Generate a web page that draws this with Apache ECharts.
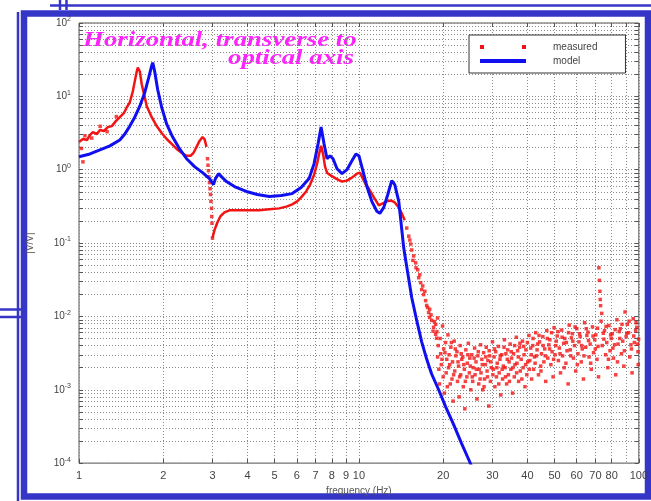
<!DOCTYPE html>
<html><head><meta charset="utf-8">
<script src="https://cdn.jsdelivr.net/npm/echarts@6/dist/echarts.min.js"></script>
<style>html,body{margin:0;padding:0;background:#fff}#c{width:651px;height:501px}</style>
</head><body><div id="c"></div>
<script>
// ---- axis ticks / labels ----
const xTickValues = [1,2,3,4,5,6,7,8,9,10,20,30,40,50,60,70,80,90,100];
const yTickValues = [
  1e-4,2e-4,3e-4,4e-4,5e-4,6e-4,7e-4,8e-4,9e-4,
  1e-3,2e-3,3e-3,4e-3,5e-3,6e-3,7e-3,8e-3,9e-3,
  1e-2,2e-2,3e-2,4e-2,5e-2,6e-2,7e-2,8e-2,9e-2,
  0.1,0.2,0.3,0.4,0.5,0.6,0.7,0.8,0.9,
  1,2,3,4,5,6,7,8,9,
  10,20,30,40,50,60,70,80,90,100];
const yLabelValues = [1e-4,1e-3,1e-2,1e-1,1,10,100];

// ---- measured (red) ----
const measuredLow = [
  [1.00,2.39],[1.033,2.62],[1.068,2.54],[1.094,2.97],[1.121,3.26],[1.159,3.06],[1.188,3.47],
  [1.227,3.37],[1.268,3.81],[1.310,3.93],[1.354,4.59],[1.399,5.20],[1.446,5.89],[1.482,7.10],
  [1.519,8.30],[1.557,11.7],[1.582,16.0],[1.608,21.8],[1.622,24.7],[1.649,21.8],[1.676,14.5],
  [1.718,9.69],[1.746,7.33],[1.819,5.20],[1.895,3.93],[1.974,3.16],[2.057,2.62],[2.143,2.25],
  [2.233,1.92],[2.325,1.70],[2.423,1.55],[2.504,1.55],[2.566,1.70],[2.630,2.05],[2.695,2.47],
  [2.763,2.79],[2.808,2.62],[2.854,2.05]];
const measuredDrop = [
  [1.02,1.95],[1.033,1.28],[1.05,2.9],[1.11,2.7],[1.19,3.9],[1.26,3.3],[1.36,5.3],
  [2.878,1.41],[2.89,1.15],[2.901,0.969],[2.91,0.80],[2.925,0.667],
  [2.94,0.55],[2.950,0.459],[2.96,0.37],[2.974,0.297],[2.98,0.23],[2.986,0.186],[2.998,0.117]];
const measuredMid = [
  [2.998,0.117],[3.048,0.150],[3.124,0.192],[3.201,0.232],[3.308,0.262],[3.446,0.279],[3.741,0.279],
  [4.060,0.279],[4.407,0.279],[4.783,0.288],[5.193,0.297],[5.543,0.316],[5.775,0.337],[6.017,0.370],
  [6.217,0.419],[6.477,0.505],[6.694,0.627],[6.917,0.855],[7.089,1.21],[7.207,1.64],[7.326,2.11],
  [7.447,1.64],[7.568,1.10],[7.693,0.911],[7.950,0.830],[8.283,0.756],[8.700,0.689],[9.064,0.71],
  [9.443,0.780],[9.838,0.883],[10.08,0.911],[10.33,0.756],[10.59,0.627],[10.85,0.553],[11.31,0.419],
  [11.78,0.326],[12.17,0.347],[12.58,0.370],[13.00,0.381],[13.43,0.358],[13.88,0.306],[14.22,0.254],
  [14.58,0.205]];
const measuredTail = [
  [14.82,0.160],[15.07,0.124],[15.31,0.0969],[15.44,0.0804],[15.69,0.0667],[15.95,0.0537],
  [16.22,0.0432],[16.35,0.0337],[16.62,0.0288],[16.76,0.0232],[17.03,0.0198],[17.31,0.0164],
  [17.46,0.0141],[17.75,0.0113],[17.89,0.00969],[18.19,0.00883],[18.49,0.0071],[18.79,0.00571],
  [18.95,0.00505],[17.2,0.022],[17.9,0.0125],[18.6,0.0085],
  [15.2,0.11],[15.6,0.058],[16.0,0.046],[16.5,0.037],[16.9,0.026],[17.6,0.0132],[18.1,0.0105],
  [18.4,0.0063],[18.8,0.0078],[19.1,0.0095]];
const measuredCloud = [
  [19.0,6.2e-3],[19.1,2.8e-3],[19.2,4.0e-3],[19.3,1.9e-3],[19.5,5.0e-3],[19.6,3.1e-3],[19.7,2.2e-3],
  [19.9,7.4e-3],[20.0,1.5e-3],[20.1,3.6e-3],[20.2,0.9e-3],[20.4,4.4e-3],[20.5,1.7e-3],[20.6,2.6e-3],
  [20.8,5.6e-3],[20.9,2.0e-3],[21.0,3.0e-3],[21.2,1.2e-3],[21.3,3.8e-3],[21.5,1.4e-3],[21.6,2.4e-3],
  [21.7,0.7e-3],[21.9,4.6e-3],[22.0,1.8e-3],[22.2,2.9e-3],[22.4,3.3e-3],[22.5,1.3e-3],[22.7,2.1e-3],
  [22.8,0.8e-3],[23.0,4.0e-3],[23.1,1.6e-3],[23.3,2.6e-3],[23.5,2.8e-3],[23.6,1.1e-3],[23.8,1.9e-3],
  [23.9,0.55e-3],[24.1,3.5e-3],[24.3,1.5e-3],[24.4,2.3e-3],[24.6,4.3e-3],[24.8,1.7e-3],[24.9,2.7e-3],
  [25.1,1.0e-3],[25.3,3.0e-3],[25.5,1.3e-3],[25.6,2.0e-3],[25.9,3.7e-3],[26.0,1.6e-3],[26.2,2.4e-3],
  [26.4,0.75e-3],[26.6,2.9e-3],[26.8,1.2e-3],[26.9,1.9e-3],[27.2,4.1e-3],[27.3,1.7e-3],[27.5,2.6e-3],
  [27.7,1.0e-3],[27.9,3.2e-3],[28.1,1.4e-3],[28.3,2.2e-3],[28.5,3.8e-3],[28.7,1.8e-3],[28.9,2.5e-3],
  [29.1,0.6e-3],[29.3,2.9e-3],[29.5,1.3e-3],[29.7,2.0e-3],[30.0,4.5e-3],[30.2,1.9e-3],[30.4,2.8e-3],
  [30.6,1.1e-3],[30.8,3.3e-3],[31.0,1.5e-3],[31.2,2.3e-3],[31.5,3.9e-3],[31.7,1.7e-3],[31.9,2.6e-3],
  [32.1,0.85e-3],[32.4,3.0e-3],[32.6,1.4e-3],[32.8,2.1e-3],[33.1,4.8e-3],[33.3,2.0e-3],[33.5,3.1e-3],
  [33.7,1.2e-3],[34.0,3.5e-3],[34.2,1.6e-3],[34.4,2.4e-3],[34.7,4.2e-3],[34.9,1.9e-3],[35.1,2.7e-3],
  [35.4,0.9e-3],[35.7,3.1e-3],[35.9,1.5e-3],[36.1,2.2e-3],[36.5,5.2e-3],[36.7,2.3e-3],[36.9,3.4e-3],
  [37.2,1.3e-3],[37.5,3.8e-3],[37.7,1.8e-3],[38.0,2.6e-3],[38.4,4.6e-3],[38.6,2.0e-3],[38.9,3.0e-3],
  [39.2,1.1e-3],[39.5,3.5e-3],[39.8,1.6e-3],[40.1,2.4e-3],[40.5,5.5e-3],[40.8,2.5e-3],[41.1,3.7e-3],
  [41.4,1.4e-3],[41.8,4.0e-3],[42.1,1.9e-3],[42.4,2.8e-3],[42.8,6.0e-3],[43.1,2.9e-3],[43.5,4.2e-3],
  [43.8,1.6e-3],[44.2,4.5e-3],[44.6,2.1e-3],[44.9,3.1e-3],[45.4,5.3e-3],[45.8,2.4e-3],[46.1,3.6e-3],
  [46.5,1.3e-3],[46.9,6.4e-3],[47.3,2.7e-3],[47.7,4.1e-3],[48.1,4.8e-3],[48.5,2.2e-3],[49.0,3.3e-3],
  [49.4,1.5e-3],[49.8,7.0e-3],[50.2,3.0e-3],[50.7,4.6e-3],[51.1,5.4e-3],[51.6,2.5e-3],[52.0,3.7e-3],
  [52.5,1.7e-3],[53.0,6.5e-3],[53.4,2.9e-3],[53.9,4.3e-3],[54.4,5.0e-3],[54.9,2.3e-3],[55.4,3.4e-3],
  [55.9,1.2e-3],[56.4,7.6e-3],[56.9,3.5e-3],[57.4,5.1e-3],[57.9,5.8e-3],[58.4,2.7e-3],[58.9,4.0e-3],
  [59.5,1.8e-3],[60.0,6.8e-3],[60.6,3.1e-3],[61.1,4.5e-3],[61.7,5.3e-3],[62.3,2.4e-3],[62.8,3.6e-3],
  [63.4,1.4e-3],[64.0,8.2e-3],[64.6,3.8e-3],[65.2,5.5e-3],[65.8,6.1e-3],[66.4,2.8e-3],[67.0,4.2e-3],
  [67.6,1.9e-3],[68.3,7.2e-3],[68.9,3.2e-3],[69.6,4.8e-3],[70.2,5.6e-3],[70.9,2.6e-3],[71.5,3.9e-3],
  [71.8,1.5e-3],[72.0,46e-3],[72.3,31e-3],[72.6,22e-3],[73.0,14e-3],[73.3,8.6e-3],[74.0,4.0e-3],
  [74.7,5.9e-3],[75.4,6.4e-3],[76.1,3.0e-3],[76.8,4.4e-3],[77.5,2.0e-3],[78.2,7.5e-3],[78.9,3.4e-3],
  [79.7,5.0e-3],[80.4,5.8e-3],[81.2,2.7e-3],[81.9,4.1e-3],[82.7,1.6e-3],[83.5,9.0e-3],[84.3,4.2e-3],
  [85.1,6.2e-3],[85.9,6.8e-3],[86.7,3.1e-3],[87.6,4.6e-3],[88.4,2.1e-3],[89.3,11.5e-3],[90.1,5.3e-3],
  [91.0,7.8e-3],[91.9,6.0e-3],[92.8,2.8e-3],[93.7,4.1e-3],[94.6,1.7e-3],[95.5,9.3e-3],[96.4,4.4e-3],
  [97.4,6.4e-3],[98.3,7.1e-3],[99.3,3.3e-3],[99.8,4.9e-3],[99.5,2.2e-3],
  [19.4,1.2e-3],[19.8,2.6e-3],[20.3,3.2e-3],[20.7,1.1e-3],[21.1,2.2e-3],[21.4,4.4e-3],[21.8,1.6e-3],
  [22.1,3.6e-3],[22.6,2.4e-3],[22.9,1.5e-3],[23.2,3.1e-3],[23.7,2.2e-3],[24.0,1.3e-3],[24.5,3.0e-3],
  [25.0,2.1e-3],[25.4,1.5e-3],[25.8,2.7e-3],[26.3,1.9e-3],[26.7,3.3e-3],[27.1,1.4e-3],[27.6,2.2e-3],
  [28.0,1.1e-3],[28.4,2.8e-3],[28.8,1.5e-3],[29.2,3.4e-3],[29.6,2.4e-3],[30.1,1.6e-3],[30.5,3.6e-3],
  [31.1,2.0e-3],[31.6,1.2e-3],[32.0,2.9e-3],[32.5,1.9e-3],[33.0,3.8e-3],[33.4,1.5e-3],[33.9,2.6e-3],
  [34.5,1.3e-3],[35.0,3.3e-3],[35.5,2.0e-3],[36.0,4.0e-3],[36.6,1.7e-3],[37.1,2.8e-3],[37.6,4.3e-3],
  [38.2,1.4e-3],[38.8,3.9e-3],[39.4,2.2e-3],[40.0,4.4e-3],[40.6,1.9e-3],[41.3,3.0e-3],[41.9,5.0e-3],
  [42.6,2.3e-3],[43.3,3.5e-3],[44.0,5.5e-3],[44.7,1.8e-3],[45.5,4.0e-3],[46.3,2.9e-3],[47.1,5.0e-3],
  [48.0,3.6e-3],[48.8,6.0e-3],[49.6,2.6e-3],[50.5,4.0e-3],[51.4,6.2e-3],[52.3,3.1e-3],[53.2,5.2e-3],
  [54.1,2.0e-3],[55.1,4.4e-3],[56.1,6.0e-3],[57.1,2.9e-3],[58.1,4.6e-3],[59.2,7.2e-3],[60.3,2.2e-3],
  [61.4,5.8e-3],[62.5,4.0e-3],[63.7,2.9e-3],[64.9,6.8e-3],[66.1,4.7e-3],[67.3,2.3e-3],[68.6,5.4e-3],
  [69.9,3.6e-3],[71.2,6.9e-3],[72.8,17e-3],[73.7,11e-3],[75.0,4.9e-3],[76.4,7.3e-3],[77.9,2.6e-3],
  [79.3,5.6e-3],[80.8,3.7e-3],[82.3,6.6e-3],[83.9,2.4e-3],[85.5,5.0e-3],[87.1,7.8e-3],[88.8,3.4e-3],
  [90.5,5.9e-3],[92.3,8.6e-3],[94.1,3.6e-3],[95.9,5.4e-3],[97.8,8.2e-3],[99.0,4.2e-3]];

// ---- model (blue) ----
const modelCurve = [
  [1.00,1.50],[1.094,1.64],[1.188,1.86],[1.289,2.11],[1.399,2.54],[1.458,3.06],[1.519,3.93],
  [1.582,5.20],[1.649,7.33],[1.718,11.3],[1.775,18.1],[1.819,26.2],[1.834,28.8],[1.864,21.8],
  [1.910,12.4],[1.974,7.10],[2.057,4.19],[2.161,2.79],[2.288,1.92],[2.423,1.41],[2.587,1.10],
  [2.763,0.911],[2.925,0.756],[3.023,0.627],[3.073,0.756],[3.150,0.883],[3.228,0.804],[3.363,0.689],
  [3.592,0.589],[3.962,0.505],[4.336,0.459],[4.783,0.432],[5.279,0.445],[5.775,0.472],[6.217,0.571],
  [6.638,0.756],[6.917,1.21],[7.147,2.25],[7.326,3.81],[7.507,2.25],[7.693,1.41],[7.885,1.55],
  [8.083,1.41],[8.353,1.03],[8.700,0.883],[9.064,1.00],[9.443,1.32],[9.757,1.64],[10.0,1.55],
  [10.33,0.969],[10.68,0.589],[11.12,0.370],[11.59,0.271],[11.88,0.254],[12.27,0.306],[12.68,0.459],
  [13.10,0.71],[13.43,0.627],[13.88,0.370],[14.46,0.0855],[14.94,0.0393],[15.44,0.0181],[16.09,0.0088],
  [16.76,0.0045],[17.46,0.00262],[18.19,0.00164],[19.27,0.00100],[20.40,5.9e-4],[21.78,3.37e-4],
  [23.26,1.86e-4],[24.83,1.06e-4],[25.24,0.91e-4]];

const RED = '#f21414';
const BLUE = '#0f0ff0';
const FRAME = '#3535c8';
const GRIDLINE = {color: '#8a8a8a', type: [1, 2], width: 1};
const LABEL_FONT = '"Liberation Sans", Arial, sans-serif';

const chart = echarts.init(document.getElementById('c'), null, {renderer: 'canvas'});
const supFmt = v => '{b|10}{s|' + Math.round(Math.log10(v)) + '}';

chart.setOption({
  animation: false,
  backgroundColor: '#ffffff',
  grid: {left: 79, right: 11, top: 23, bottom: 34, show: true, borderColor: '#555', borderWidth: 1, backgroundColor: 'transparent'},
  legend: {
    orient: 'vertical', left: 469, top: 35,
    padding: [7, 28, 7, 11], itemGap: 4,
    itemWidth: 46, itemHeight: 4,
    backgroundColor: '#fff', borderColor: '#333', borderWidth: 1, borderRadius: 0,
    selectedMode: false,
    textStyle: {color: '#444', fontSize: 10, fontFamily: LABEL_FONT, padding: [0, 0, 0, 22]},
    data: [
      {name: 'measured', icon: 'path://M0,0h4v4h-4zM42,0h4v4h-4z', itemStyle: {color: RED}},
      {name: 'model', icon: 'rect', itemStyle: {color: BLUE}}
    ]
  },
  xAxis: [{
    type: 'log', logBase: 10, min: 1, max: 100, position: 'bottom',
    name: 'frequency (Hz)', nameLocation: 'middle', nameGap: 22,
    nameTextStyle: {color: '#555', fontSize: 10, fontFamily: LABEL_FONT},
    axisLine: {show: false},
    axisTick: {show: true, inside: true, length: 4, customValues: xTickValues, lineStyle: {color: '#555'}},
    axisLabel: {customValues: xTickValues, formatter: v => String(v), color: '#444', fontSize: 11, margin: 7,
      fontFamily: LABEL_FONT, showMaxLabel: true, showMinLabel: true, hideOverlap: false},
    splitLine: {show: true, lineStyle: GRIDLINE},
    minorTick: {show: false}, minorSplitLine: {show: false}
  }, {
    type: 'log', logBase: 10, min: 1, max: 100, position: 'top',
    axisLine: {show: false},
    axisTick: {show: true, inside: true, length: 4, customValues: xTickValues, lineStyle: {color: '#555'}},
    axisLabel: {show: false}, splitLine: {show: false}
  }],
  yAxis: [{
    type: 'log', logBase: 10, min: 1e-4, max: 100, position: 'left',
    name: '|V/V|', nameLocation: 'middle', nameGap: 44, nameRotate: 90,
    nameTextStyle: {color: '#555', fontSize: 10, fontFamily: LABEL_FONT},
    axisLine: {show: false},
    axisTick: {show: true, inside: true, length: 4, customValues: yTickValues, lineStyle: {color: '#555'}},
    axisLabel: {customValues: yLabelValues, formatter: supFmt, color: '#444', margin: 8,
      rich: {b: {fontSize: 10, fontFamily: LABEL_FONT, color: '#444'},
             s: {fontSize: 7, fontFamily: LABEL_FONT, color: '#444', padding: [0, 0, 7, 0]}}},
    splitLine: {show: true, lineStyle: GRIDLINE}
  }, {
    type: 'log', logBase: 10, min: 1e-4, max: 100, position: 'right',
    axisLine: {show: false},
    axisTick: {show: true, inside: true, length: 4, customValues: yTickValues, lineStyle: {color: '#555'}},
    axisLabel: {show: false}, splitLine: {show: false}
  }],
  series: [
    {name: 'measured', type: 'line', data: measuredLow, showSymbol: false, symbol: 'none',
      lineStyle: {color: RED, width: 2.5}, itemStyle: {color: RED}, z: 3},
    {name: 'measured', type: 'line', data: measuredMid, showSymbol: false, symbol: 'none',
      lineStyle: {color: RED, width: 2.5}, itemStyle: {color: RED}, z: 3},
    {name: 'measured', type: 'scatter', data: measuredDrop.concat(measuredTail, measuredCloud),
      symbolSize: 3.5, symbol: 'rect', itemStyle: {color: RED}, z: 3},
    {name: 'model', type: 'line', data: modelCurve, showSymbol: false, symbol: 'none', clip: true,
      lineStyle: {color: BLUE, width: 3}, itemStyle: {color: BLUE}, z: 4}
  ],
  graphic: [
    {type: 'line', shape: {x1: 18, y1: 12, x2: 18, y2: 501}, style: {stroke: FRAME, lineWidth: 2.5}},
    {type: 'line', shape: {x1: 0, y1: 309.5, x2: 21, y2: 309.5}, style: {stroke: FRAME, lineWidth: 2.5}},
    {type: 'line', shape: {x1: 0, y1: 317, x2: 21, y2: 317}, style: {stroke: FRAME, lineWidth: 2.5}},
    {type: 'line', shape: {x1: 50, y1: 5.5, x2: 651, y2: 5.5}, style: {stroke: FRAME, lineWidth: 2.5}},
    {type: 'line', shape: {x1: 60, y1: 0, x2: 60, y2: 10}, style: {stroke: FRAME, lineWidth: 2.5}},
    {type: 'line', shape: {x1: 66.5, y1: 0, x2: 66.5, y2: 10}, style: {stroke: FRAME, lineWidth: 2.5}},
    {type: 'rect', shape: {x: 24, y: 13.5, width: 624, height: 483}, style: {fill: 'none', stroke: FRAME, lineWidth: 6.5}},
    {type: 'text', x: 83, y: 29, scaleX: 1.22,
      style: {text: 'Horizontal, transverse to', font: 'italic bold 22px "Liberation Serif", "DejaVu Serif", serif', fill: '#ff22ff', textAlign: 'left', textVerticalAlign: 'top'}},
    {type: 'text', x: 354, y: 47, scaleX: 1.22,
      style: {text: 'optical axis', font: 'italic bold 22px "Liberation Serif", "DejaVu Serif", serif', fill: '#ff22ff', textAlign: 'right', textVerticalAlign: 'top'}}
  ]
});
</script></body></html>
